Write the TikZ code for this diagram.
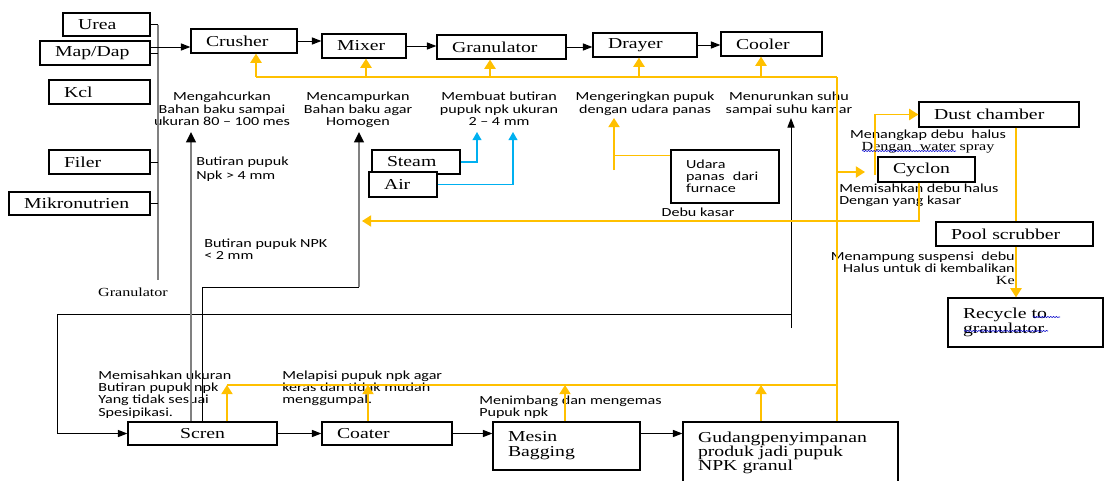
\documentclass[tikz,border=0pt]{standalone}
\usepackage{fontspec}
\newfontfamily\serifwide[FakeStretch=1.3]{Liberation Serif}
\newfontfamily\sanswide[FakeStretch=1.3]{Carlito}
\newcommand\boxfont{\serifwide\fontsize{10.8}{10.6}\selectfont}
\newcommand\smallserif{\serifwide\fontsize{8.8}{8.7}\selectfont}
\newcommand\notefont{\sanswide\fontsize{8.8}{8.7}\selectfont}
\newcommand\px{0.025cm}
\usetikzlibrary{arrows.meta,calc,decorations.pathmorphing}
\definecolor{util}{HTML}{FFC000}
\definecolor{steamblue}{HTML}{00B0F0}
\tikzset{
  pbox/.style 2 args={draw,line width=.9pt,fill=white,font=\boxfont,align=left,inner ysep=0pt,
    inner xsep=15*\px,text width={(#1-30)*\px},minimum height={#2*\px}},
  note/.style={font=\notefont,inner sep=0pt},
  pline/.style={line width=.7pt},
  parr/.style={-{Triangle[length=2.4mm,width=1.8mm]},line width=.7pt},
  gline/.style={line width=1.5pt,gray},
  garr/.style={gline,-{Triangle[length=2.6mm,width=2.4mm,color=black]}},
  oline/.style={util,line width=.8pt},
  oarr/.style={util,line width=1.3pt,-{Triangle[length=2.3mm,width=2.8mm]}},
  barr/.style={steamblue,line width=.9pt,-{Triangle[length=2mm,width=2.2mm]}},
  squig/.style={blue!80!black,line width=.4pt,decorate,decoration={snake,amplitude=.4pt,segment length=2pt}}
}

\begin{document}
\begin{tikzpicture}[x=.025cm,y=-.025cm]
  \useasboundingbox (0,0) rectangle (1104,480);

  % raw materials
  \node[pbox={87}{23}] (urea) at (106.5,24.5) {Urea};
  \node[pbox={110}{24}] (mapdap) at (95,53) {Map/Dap};
  \node[pbox={101}{24}] (kcl) at (99.5,92) {Kcl};
  \node[pbox={101}{24}] (filer) at (99.5,162) {Filer};
  \node[pbox={141}{23}] (mikro) at (79.5,203.5) {Mikronutrien};

  % process line
  \node[pbox={106}{24}] (crusher) at (244,41) {Crusher};
  \node[pbox={84}{24}] (mixer) at (364,46) {Mixer};
  \node[pbox={129}{24}] (granul) at (501.5,47) {Granulator};
  \node[pbox={104}{24}] (drayer) at (645,45) {Drayer};
  \node[pbox={101}{24}] (cooler) at (771.5,44) {Cooler};
  \node[pbox={88}{24}] (steam) at (416,162) {Steam};
  \node[pbox={68}{25}] (air) at (403,184.5) {Air};
  \node[pbox={108}{53},font=\notefont] (udara) at (725,176.5) {Udara\\panas\ \ dari\\furnace};
  \node[pbox={160}{25}] (dust) at (999,114.5) {Dust chamber};
  \node[pbox={97}{25}] (cyclon) at (926.5,169.5) {Cyclon};
  \node[pbox={157}{24}] (pool) at (1014.5,234) {Pool scrubber};
  \node[pbox={155}{49}] (recycle) at (1025.5,322.5) {Recycle to\\granulator};
  \node[pbox={149}{23},align=center] (scren) at (202.5,433.5) {Scren};
  \node[pbox={130}{23}] (coater) at (387,433.5) {Coater};
  \node[pbox={147}{48}] (mesin) at (566.5,446) {Mesin\\Bagging};
  \node[pbox={215}{62},font=\serifwide\fontsize{10.8}{9.9}\selectfont] (gudang) at (790.5,453)
    {Gudangpenyimpanan\\produk jadi pupuk\\NPK granul};

  % notes
  \node[note,anchor=north,align=center] (crushnote) at (222,92) {Mengahcurkan\\Bahan baku sampai\\ukuran 80 – 100 mes};
  \node[note,anchor=north,align=center] (mixnote) at (358,92) {Mencampurkan\\Bahan baku agar\\Homogen};
  \node[note,anchor=north,align=center] (granote) at (499,92) {Membuat butiran\\pupuk npk ukuran\\2 – 4 mm};
  \node[note,anchor=north,align=center] (drynote) at (645,92) {Mengeringkan pupuk\\dengan udara panas};
  \node[note,anchor=north,align=center] (coolnote) at (789,92) {Menurunkan suhu\\sampai suhu kamar};
  \node[note,anchor=north,align=center] (dustnote) at (928,129.5) {Menangkap debu\ \ halus\\{\smallserif Dengan\ \ water spray}};
  \node[note,anchor=north west,align=left] (cycnote) at (839,183.5) {Memisahkan debu halus\\Dengan yang kasar};
  \node[note,anchor=north east,align=right] (poolnote) at (1015,251.5) {Menampung suspensi\ \ debu\\Halus untuk di kembalikan\\{\smallserif Ke}};
  \node[note,anchor=north west,align=left] (bignote) at (196,156.5) {Butiran pupuk\\[1.2pt]Npk > 4 mm};
  \node[note,anchor=north west,align=left] (smallnote) at (204,238.5) {Butiran pupuk NPK\\< 2 mm};
  \node[note,anchor=north west,align=left] (screnote) at (98,370.5) {Memisahkan ukuran\\Butiran pupuk npk\\Yang tidak sesuai\\Spesipikasi.};
  \node[note,anchor=north west,align=left] (coatnote) at (282,370.5) {Melapisi pupuk npk agar\\keras dan tidak mudah\\menggumpal.};
  \node[note,anchor=north west,align=left] (bagnote) at (479,395.5) {Menimbang dan mengemas\\Pupuk npk};
  \node[note,anchor=north] (kasarnote) at (698,207.5) {Debu kasar};
  \node[note,anchor=north,font=\smallserif] (granlabel) at (133,287.5) {Granulator};

  % feed bus
  \coordinate (bustop) at (158,24.5);
  \coordinate (busbot) at (158,280);
  \draw[gline] (bustop) -- (busbot);
  \foreach \n in {urea,mapdap,filer,mikro}
    \draw[pline] (\n.east) -- (\n.east -| bustop);
  \coordinate (mapout) at ($(mapdap.east)+(0,-6)$);
  \draw[parr] (mapout) -- (mapout -| crusher.west);

  \foreach \a/\b in {crusher/mixer,mixer/granul,granul/drayer,drayer/cooler,scren/coater,coater/mesin}
    \draw[parr] (\a.east) -- (\a.east -| \b.west);
  \draw[parr] (mesin.east |- coater.east) -- (gudang.west |- coater.east);

  % return to screen
  \coordinate (cooltip) at (791,118);
  \coordinate (cooltail) at (791,328);
  \coordinate (loopcorner) at (57,314);
  \draw[parr] (cooltail) -- (cooltip);
  \draw[parr] (cooltip |- loopcorner) -- (loopcorner) |- (scren.west);

  \coordinate (bigtip) at (191,132);
  \draw[garr] (scren.north -| bigtip) -- (bigtip);
  \coordinate (smalltip) at (359,132);
  \coordinate (smallbend) at (359,287);
  \draw[pline] (scren.north) |- (smallbend);
  \draw[garr] (smallbend) -- (smalltip);

  % utility lines
  \coordinate (topleft) at (256,77);
  \coordinate (topright) at (837,77);
  \draw[oline] (topleft) -- (topright);
  \foreach \x/\n in {256/crusher,366/mixer,490/granul,639/drayer,761/cooler}{
    \coordinate (up) at (\x,77);
    \draw[oarr] (up) -- (up |- \n.south);
  }
  \draw[oline] (topright) -- (topright |- gudang.north);
  \coordinate (botleft) at (227,385);
  \draw[oline] (botleft) -- (botleft -| topright);
  \foreach \x/\n in {227/scren,368/coater,565/mesin,761/gudang}{
    \coordinate (up) at (\x,385);
    \draw[oarr] (up |- \n.north) -- (up);
  }
  \coordinate (cycin) at (837,172);
  \coordinate (cyctip) at (865,172);
  \draw[oarr] (cycin) -- (cyctip);
  \coordinate (dustfoot) at (875,175);
  \draw[oarr] (dustfoot) |- (dust.west);
  \coordinate (washline) at (1016,127);
  \draw[oline] (dust.south -| washline) -- (pool.north -| washline);
  \draw[oarr] (pool.south -| washline) -- (recycle.north -| washline);
  \coordinate (kasartip) at (362,221);
  \draw[oarr] ($(cyclon.south)+(-7.5,0)$) |- (kasartip);
  \coordinate (udtip) at (614,118);
  \coordinate (udtail) at (614,170);
  \coordinate (udin) at ($(udara.north west)+(0,6)$);
  \draw[oarr] (udtail) -- (udtip);
  \draw[oline] (udin) -- (udin -| udtip);

  \coordinate (steamtip) at (477,132);
  \coordinate (airtip) at (513,132);
  \draw[barr] (steam.east) -| (steamtip);
  \draw[barr] (air.east) -| (airtip);

  % spelling marks
  \draw[squig] (862,151) -- (956,151);
  \draw[squig] (1033,317) -- (1060,317);
  \draw[squig] (964,331) -- (1048,331);
\end{tikzpicture}
\end{document}
